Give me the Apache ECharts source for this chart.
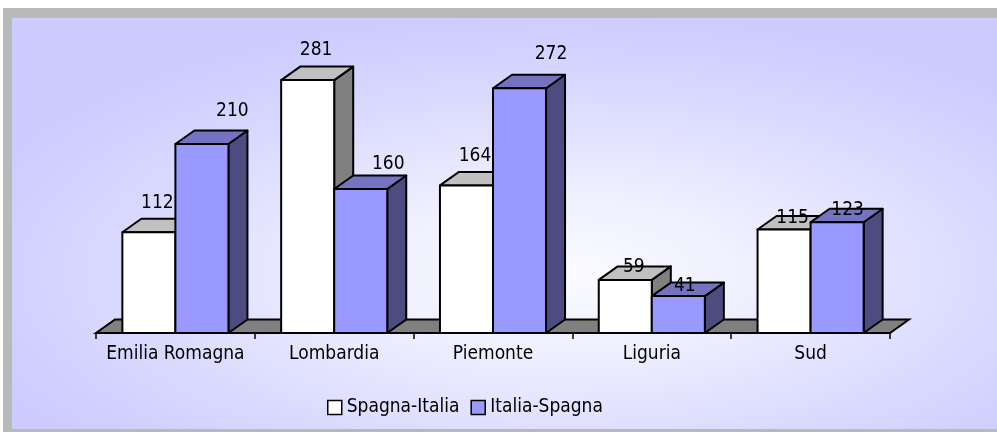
<!DOCTYPE html>
<html lang="it">
<head>
    <meta charset="UTF-8">
    <title>Spagna-Italia / Italia-Spagna</title>
    <script src="https://cdn.jsdelivr.net/npm/echarts@6/dist/echarts.min.js"></script>
    <style>
        html, body { margin: 0; padding: 0; background: #fff; }
    </style>
</head>
<body>
<div id="main" style="width: 997px;height: 432px;"></div>
<script type="text/javascript">
// dati
var regioni = ['Emilia Romagna', 'Lombardia', 'Piemonte', 'Liguria', 'Sud'];
var spagnaItalia = [112, 281, 164, 59, 115];
var italiaSpagna = [210, 160, 272, 41, 123];

var FONT = '"DejaVu Sans Condensed", "Liberation Sans", sans-serif';
var DX = 19, DY = -13.5;     // profondita' 3D
var BAR = 0.334;             // larghezza barra / banda

// etichette spostate a mano come nell'originale (px sopra il bordo frontale)
var liftW = [24, 25, 24, 7, 6];
var liftB = [27, 19, 29, 5, 7];
var shiftB = [21, 18, 22, -3, 1];

var colori = [
    {front: '#ffffff', top: '#c0c0c0', side: '#808080'},
    {front: '#9999ff', top: '#7373bf', side: '#4c4c80'}
];

function bar3d(s) {
    return function (params, api) {
        var k = api.value(0), v = api.value(1);
        var base = api.coord([k, 0]);
        var top = api.coord([k, v]);
        var w = api.size([1, 0])[0] * BAR;
        var x0 = s === 0 ? base[0] - w : base[0];
        var x1 = x0 + w, y0 = top[1], y1 = base[1];
        var c = colori[s];
        var line = {stroke: '#000', lineWidth: 2, lineJoin: 'round'};
        var lx = s === 0 ? (x0 + x1 + DX) / 2 - 1 : (x0 + x1 + DX) / 2 + shiftB[k];
        var ly = y0 - (s === 0 ? liftW[k] : liftB[k]);
        return {
            type: 'group',
            children: [
                {type: 'polygon', shape: {points: [[x1, y0], [x1 + DX, y0 + DY], [x1 + DX, y1 + DY], [x1, y1]]},
                    style: Object.assign({fill: c.side}, line)},
                {type: 'polygon', shape: {points: [[x0, y0], [x0 + DX, y0 + DY], [x1 + DX, y0 + DY], [x1, y0]]},
                    style: Object.assign({fill: c.top}, line)},
                {type: 'rect', shape: {x: x0, y: y0, width: w, height: y1 - y0},
                    style: Object.assign({fill: c.front}, line)},
                {type: 'text', style: {text: String(v), x: lx, y: ly + 4, fill: '#000',
                    font: '19px ' + FONT, textAlign: 'center', textVerticalAlign: 'bottom',
                    align: 'center', verticalAlign: 'bottom'}}
            ]
        };
    };
}

var myChart = echarts.init(document.getElementById('main'));
myChart.setOption({
    backgroundColor: '#fff',
    animation: false,
    graphic: [
        {type: 'rect', z: -100, silent: true, shape: {x: 3, y: 8, width: 994, height: 424},
            style: {fill: '#b9b9b9'}},
        {type: 'rect', z: -99, silent: true, x: 12, y: 18, scaleX: 995 / 411,
            shape: {x: 0, y: 0, width: 411, height: 411},
            style: {fill: {type: 'radial', x: 0.55, y: 0.62, r: 0.62, colorStops: [
                {offset: 0, color: '#fbfbff'},
                {offset: 0.3, color: '#f0f0ff'},
                {offset: 0.7, color: '#dadaff'},
                {offset: 1, color: '#ccccff'}
            ]}}}
    ],
    grid: {left: 96, right: 107, top: 63, bottom: 99},
    legend: {
        left: 327, top: 398, padding: 0,
        itemWidth: 14, itemHeight: 14, itemGap: 11,
        icon: 'rect',
        textStyle: {fontSize: 19, color: '#000', fontFamily: FONT},
        data: [
            {name: 'Spagna-Italia', itemStyle: {color: '#ffffff', borderColor: '#000', borderWidth: 1.5}},
            {name: 'Italia-Spagna', itemStyle: {color: '#9999ff', borderColor: '#000', borderWidth: 1.5}}
        ]
    },
    xAxis: {
        type: 'category',
        data: regioni,
        z: 10,
        axisLine: {show: true, lineStyle: {color: '#000', width: 1.5}},
        axisTick: {show: true, alignWithLabel: false, interval: 0, length: 6, lineStyle: {color: '#000', width: 1.5}},
        axisLabel: {interval: 0, fontSize: 19, color: '#000', fontFamily: FONT, margin: 12}
    },
    yAxis: {type: 'value', min: 0, max: 300, show: false},
    series: [
        {
            // pavimento
            type: 'custom', silent: true, clip: false,
            data: [[0, 0]],
            renderItem: function (params, api) {
                var cs = params.coordSys;
                var yb = cs.y + cs.height, xl = cs.x, xr = cs.x + cs.width;
                return {type: 'polygon', shape: {points: [[xl, yb], [xl + DX, yb + DY], [xr + DX, yb + DY], [xr, yb]]},
                    style: {fill: '#808080', stroke: '#000', lineWidth: 2}};
            }
        },
        {
            name: 'Spagna-Italia', type: 'custom', clip: false,
            itemStyle: {color: '#ffffff'},
            encode: {x: 0, y: 1},
            data: spagnaItalia.map(function (v, i) { return [i, v]; }),
            renderItem: bar3d(0)
        },
        {
            name: 'Italia-Spagna', type: 'custom', clip: false,
            itemStyle: {color: '#9999ff'},
            encode: {x: 0, y: 1},
            data: italiaSpagna.map(function (v, i) { return [i, v]; }),
            renderItem: bar3d(1)
        }
    ]
});
</script>
</body>
</html>
